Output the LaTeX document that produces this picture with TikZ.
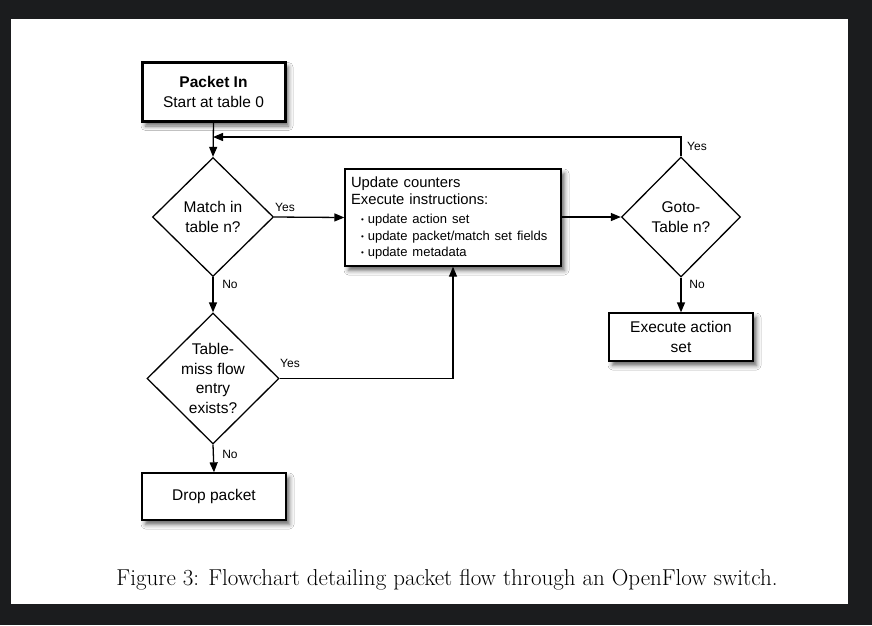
\documentclass[tikz,border=0pt]{standalone}
\usepackage{fontspec}
\newfontfamily\helv{Liberation Sans}
\usetikzlibrary{shapes.geometric,arrows.meta,shadows.blur}
\definecolor{frame}{HTML}{1B1C1E}
\begin{document}
\begin{tikzpicture}[x=1pt,y=-1pt,
  shd/.style={blur shadow={shadow xshift=3.5pt,shadow yshift=-4.5pt,shadow blur radius=4.5pt,shadow opacity=60}},
  box/.style={draw,line width=1.3pt,fill=white,shd,align=center,inner sep=0pt,
    font=\helv\fontsize{15.5}{19.5}\selectfont},
  dmd/.style={diamond,draw,line width=1.3pt,fill=white,inner sep=0pt},
  dtext/.style={align=center,inner sep=0pt,font=\helv\fontsize{15.5}{19.5}\selectfont},
  lbl/.style={inner sep=0pt,font=\helv\fontsize{12}{14}\selectfont},
  arr/.style={-{Triangle[length=10pt,width=8pt]},line width=1.3pt}]
\fill[frame] (0,0) rectangle (872,625);
\fill[white] (11,19) rectangle (848,604);
\useasboundingbox (0,0) rectangle (872,625);

\node[box,line width=3pt,minimum width=143pt,minimum height=59pt] (in) at (213.5,92)
  {\textbf{Packet In}\\Start at table 0};
\node[dmd,minimum width=121pt,minimum height=119pt] (m) at (213,217) {};
\node[dtext] (mt) at (m) {Match in\\table n?};
\node[box,text width=204pt,inner xsep=6pt,minimum height=97pt,align=left,
  font=\helv\fontsize{14.8}{17}\selectfont] (u) at (453,217.5)
  {Update counters\\Execute instructions:\\[2pt]
   {\fontsize{13}{17}\selectfont\hspace{10pt}\raisebox{1pt}{\fontsize{8}{8}\selectfont\textbullet}\hspace{4pt}update action set}\\[0pt]
   {\fontsize{13}{17}\selectfont\hspace{10pt}\raisebox{1pt}{\fontsize{8}{8}\selectfont\textbullet}\hspace{4pt}update packet/match set fields}\\[-1pt]
   {\fontsize{13}{17}\selectfont\hspace{10pt}\raisebox{1pt}{\fontsize{8}{8}\selectfont\textbullet}\hspace{4pt}update metadata}};
\node[dmd,minimum width=119pt,minimum height=120pt] (g) at (681,217) {};
\node[dtext] (gt) at (g) {Goto-\\Table n?};
\node[box,minimum width=144pt,minimum height=48pt] (e) at (681,337) {Execute action\\set};
\node[dmd,minimum width=132pt,minimum height=131pt] (t) at (213,378.5) {};
\node[dtext] (tt) at (t) {Table-\\miss flow\\entry\\exists?};
\node[box,minimum width=144pt,minimum height=47pt] (d) at (214,496.5) {Drop packet};

\coordinate (j) at (213,137);
\draw[arr] (in.south) -- (m.north);
\draw[arr] (g.north) |- (j);
\draw[arr] (m.east) -- (u.west);
\draw[arr] (u.east |- g.west) -- (g.west);
\draw[arr] (g.south) -- (e.north);
\draw[arr] (m.south) -- (t.north);
\draw[arr] (t.east) -| (u.south);
\draw[arr] (t.south) -- (d.north);

\node[lbl] (l1) at (285,207) {Yes};
\node[lbl] (l2) at (697,146) {Yes};
\node[lbl] (l3) at (697,284) {No};
\node[lbl] (l4) at (230,284) {No};
\node[lbl] (l5) at (290,363) {Yes};
\node[lbl] (l6) at (230,454) {No};

\node[inner sep=0pt,font=\fontsize{23}{26}\selectfont] (cap) at (447,580)
  {Figure 3: Flowchart detailing packet flow through an OpenFlow switch.};
\end{tikzpicture}
\end{document}
